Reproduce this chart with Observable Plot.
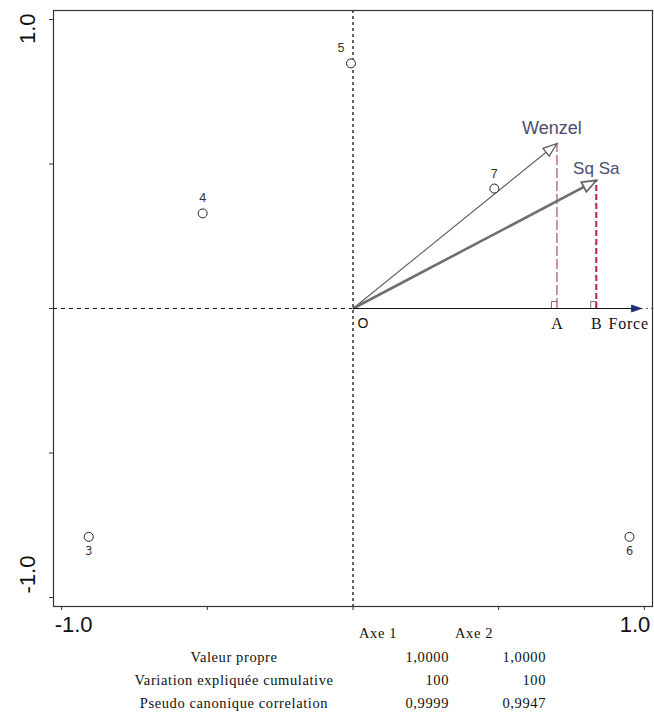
<!DOCTYPE html>
<html>
<head>
<meta charset="utf-8">
<script src="https://cdn.jsdelivr.net/npm/d3@7"></script>
<script src="https://cdn.jsdelivr.net/npm/@observablehq/plot@0.6"></script>
<style>
  body { margin: 0; background: #fff; }
  #wrap { position: relative; width: 654px; height: 720px; overflow: hidden; }
  #tbl { position: absolute; left: 0; top: 0; width: 654px; height: 720px; pointer-events: none;
         font-family: "Liberation Serif", "Times New Roman", serif; font-size: 14.5px; letter-spacing: 0.6px; color: #111; }
  #tbl div { position: absolute; white-space: nowrap; line-height: 1; }
</style>
</head>
<body>
<div id="wrap"><div id="chart"></div><div id="tbl"></div></div>
<script>
// ---- data ----
const pointLabels = ["3", "4", "5", "6", "7"];
const pointX = [-0.907, -0.516, -0.007, 0.949, 0.485];
const pointY = [-0.79, 0.329, 0.848, -0.79, 0.415];

const vectorNames = ["Wenzel", "Sq Sa", "Force"];
const vectorX = [0.70, 0.835, 0.99];
const vectorY = [0.571, 0.443, 0];

const projLabels = ["A", "B"];

const axisTicks = [-1, -0.5, 0, 0.5, 1];
const axisLabelValues = [-1, 1];

const tableHeaders = ["Axe 1", "Axe 2"];
const tableRows = ["Valeur propre", "Variation expliquée cumulative", "Pseudo canonique correlation"];
const axe1Values = ["1,0000", "100", "0,9999"];
const axe2Values = ["1,0000", "100", "0,9947"];

// ---- derived tables ----
const points = pointLabels.map((l, i) => ({label: l, x: pointX[i], y: pointY[i]}));
const vectors = vectorNames.map((n, i) => ({name: n, x: vectorX[i], y: vectorY[i]}));
const projections = projLabels.map((l, i) => ({label: l, x: vectorX[i], y: vectorY[i]}));
const fmt = d => d.toFixed(1);

const sans = "Liberation Sans, Arial, sans-serif";
const serif = "Liberation Serif, Times New Roman, serif";

const plot = Plot.plot({
  width: 654,
  height: 650,
  marginLeft: 53,
  marginRight: 2,
  marginTop: 10,
  marginBottom: 44,
  x: {domain: [-1.028, 1.028], axis: null},
  y: {domain: [-1.031, 1.031], axis: null},
  style: {background: "#fff"},
  marks: [
    // crosshair
    Plot.ruleX([0], {stroke: "#111", strokeWidth: 1.3, strokeDasharray: "3,3"}),
    Plot.ruleY([0], {x1: -1.028, x2: 0, stroke: "#111", strokeWidth: 1.1, strokeDasharray: "4,4"}),
    Plot.ruleY([0], {x1: vectorX[2], x2: 1.028, stroke: "#555", strokeWidth: 1, strokeDasharray: "2,3"}),
    // projections
    Plot.ruleX([projections[0]], {x: "x", y1: 0, y2: "y", stroke: "#a85468", strokeWidth: 1.2, strokeDasharray: "10,3"}),
    Plot.ruleX([projections[1]], {x: "x", y1: 0, y2: "y", stroke: "#c0304a", strokeWidth: 2.2, strokeDasharray: "6,3"}),
    // right-angle marks
    Plot.line(projections.flatMap(p => [
      {k: p.label, x: p.x - 0.019, y: 0},
      {k: p.label, x: p.x - 0.019, y: 0.024},
      {k: p.label, x: p.x, y: 0.024}
    ]), {x: "x", y: "y", z: "k", stroke: "#9a5a66", strokeWidth: 1}),
    // vectors
    Plot.link([vectors[0]], {x1: 0, y1: 0, x2: "x", y2: "y", stroke: "#5e5e5e", strokeWidth: 1.1}),
    Plot.link([vectors[1]], {x1: 0, y1: 0, x2: "x", y2: "y", stroke: "#6e6e6e", strokeWidth: 2.6}),
    Plot.link([vectors[2]], {x1: 0, y1: 0, x2: "x", y2: "y", stroke: "#111", strokeWidth: 1.2}),
    // frame + ticks
    Plot.frame({stroke: "#333", strokeWidth: 1.2}),
    Plot.axisX(axisTicks, {anchor: "bottom", tickSize: 4, tickFormat: () => "", stroke: "#333", label: null}),
    Plot.axisY(axisTicks, {anchor: "left", tickSize: 4, tickFormat: () => "", stroke: "#333", label: null}),
    // axis end labels
    Plot.text([axisLabelValues[0]], {x: d => d, frameAnchor: "bottom", text: fmt, textAnchor: "start", dx: -7, dy: 25, fontSize: 22, fontFamily: sans, fill: "#111"}),
    Plot.text([axisLabelValues[1]], {x: d => d, frameAnchor: "bottom", text: fmt, textAnchor: "end", dx: 6, dy: 25, fontSize: 22, fontFamily: sans, fill: "#111"}),
    Plot.text([axisLabelValues[1]], {y: d => d, frameAnchor: "left", text: fmt, rotate: -90, textAnchor: "end", dx: -26, dy: -6, fontSize: 22, fontFamily: sans, fill: "#111"}),
    Plot.text([axisLabelValues[0]], {y: d => d, frameAnchor: "left", text: fmt, rotate: -90, textAnchor: "start", dx: -26, dy: -4, fontSize: 22, fontFamily: sans, fill: "#111"}),
    // points
    Plot.dot(points, {x: "x", y: "y", r: 4.5, stroke: "#222", strokeWidth: 1, fill: "#fff"}),
    Plot.text(points.filter(p => p.y > 0 && Math.abs(p.x) > 0.05), {x: "x", y: "y", text: "label", dy: -15, fontSize: 12.5, fontFamily: sans, fill: "#333"}),
    Plot.text(points.filter(p => p.y > 0 && Math.abs(p.x) <= 0.05), {x: "x", y: "y", text: "label", dy: -15, dx: -10, fontSize: 12.5, fontFamily: sans, fill: "#333"}),
    Plot.text(points.filter(p => p.y < 0), {x: "x", y: "y", text: "label", dy: 14, fontSize: 12.5, fontFamily: "DejaVu Sans Condensed, Liberation Sans Narrow, sans-serif", fill: "#333"}),
    // vector labels
    Plot.text([vectors[0]], {x: "x", y: "y", text: "name", dy: -15, dx: -5, fontSize: 18, fontFamily: sans, fill: "#4b4d70"}),
    Plot.text([vectors[1]], {x: "x", y: "y", text: "name", dy: -12, dx: 0, fontSize: 17, fontFamily: sans, fill: "#4b4d70"}),
    Plot.text([vectors[2]], {x: "x", y: "y", text: "name", dy: 15, dx: -33, textAnchor: "start", fontSize: 16, fontFamily: serif, fill: "#111"}),
    // projection labels
    Plot.text(projections, {x: "x", y: 0, text: "label", dy: 15, fontSize: 16, fontFamily: serif, fill: "#111"}),
    Plot.text(["O"], {x: 0, y: 0, text: d => d, dx: 10, dy: 15, fontSize: 14, fontFamily: sans, fill: "#111"})
  ]
});

document.getElementById("chart").appendChild(plot);

const svg = d3.select(plot);
svg.selectAll("g[aria-label='text'] text").filter(function() { return this.textContent === "Force"; })
  .style("letter-spacing", "0.8px");

// arrowheads as SVG markers
const defs = svg.insert("defs", ":first-child");
function mk(id, fill, stroke, len, half, sw) {
  defs.append("marker").attr("id", id).attr("markerUnits", "userSpaceOnUse")
    .attr("viewBox", `${-len - 2} ${-half - 2} ${len + 4} ${2 * half + 4}`)
    .attr("markerWidth", len + 4).attr("markerHeight", 2 * half + 4)
    .attr("refX", 0).attr("refY", 0).attr("orient", "auto")
    .append("path").attr("d", `M0,0L${-len},${-half}L${-len},${half}Z`)
    .attr("fill", fill).attr("stroke", stroke).attr("stroke-width", sw).attr("stroke-linejoin", "miter");
}
mk("hW", "#fff", "#555", 14, 5, 1.2);
mk("hS", "#fff", "#5e5e5e", 14, 5.5, 1.7);
mk("hF", "#1f2a78", "#1f2a78", 10, 3.5, 0.8);
const linkGroups = svg.selectAll("g[aria-label=link]").nodes();
["hW", "hS", "hF"].forEach((id, i) => {
  d3.select(linkGroups[i]).selectAll("path").attr("marker-end", `url(#${id})`);
});

// table
const tbl = d3.select("#tbl");
const rowY = [650, 673, 696];
tbl.append("div").text(tableHeaders[0]).style("left", "359px").style("top", "626px");
tbl.append("div").text(tableHeaders[1]).style("left", "455px").style("top", "626px");
tableRows.forEach((r, i) => {
  tbl.append("div").text(r).style("left", "234px").style("top", rowY[i] + "px").style("transform", "translateX(-50%)");
  tbl.append("div").text(axe1Values[i]).style("right", (654 - 449) + "px").style("top", rowY[i] + "px");
  tbl.append("div").text(axe2Values[i]).style("right", (654 - 546) + "px").style("top", rowY[i] + "px");
});
</script>
</body>
</html>
